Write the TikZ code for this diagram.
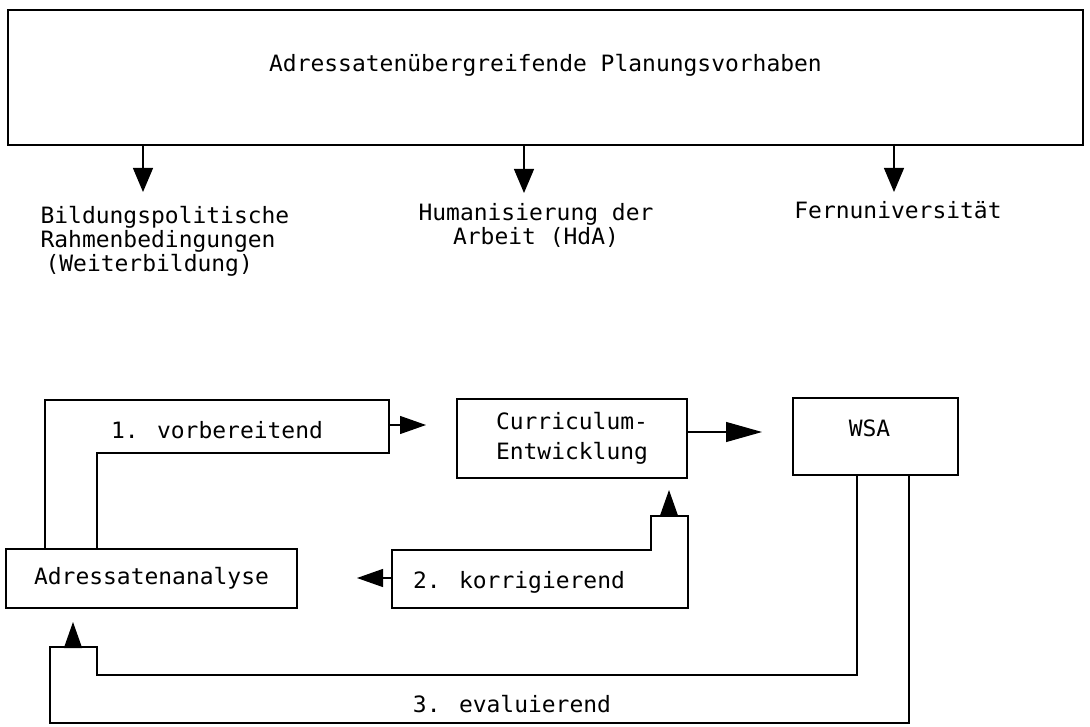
\documentclass[tikz,border=0pt]{standalone}
\usepackage{fontspec}
\newfontfamily\tw{DejaVu Sans Mono}[FakeStretch=1.02]
\usetikzlibrary{arrows.meta}
\begin{document}
\begin{tikzpicture}[x=1pt,y=-1pt,
  line width=1.2pt,
  txt/.style={font=\tw\fontsize{22.5}{24}\selectfont, inner sep=0pt},
  box/.style={draw, inner sep=0pt, line width=1.5pt},
  arrV/.style={-{Triangle[length=24pt,width=20pt]}},
  arrS/.style={-{Triangle[length=26pt,width=18pt]}},
  arrL/.style={-{Triangle[length=36pt,width=20pt]}},
]
\useasboundingbox (0,0) rectangle (1090,727);

% top box
\node[box, minimum width=1075pt, minimum height=135pt,
  label={[txt,yshift=12.5pt]center:Adressatenübergreifende Planungsvorhaben}] (top) at (545.5,77.5) {};

\node[txt, align=left, anchor=west] (bild) at (40,241) {Bildungspolitische\\Rahmenbedingungen\\\hspace*{5pt}(Weiterbildung)};
\node[txt, align=center] (huma) at (536,225) {Humanisierung der\\Arbeit (HdA)};
\node[txt] (fern) at (898,210) {Fernuniversität};

\coordinate (s1) at (143,146); \coordinate (t1) at (143,192);
\coordinate (s2) at (524,145); \coordinate (t2) at (524,193);
\coordinate (s3) at (894,144); \coordinate (t3) at (894,192);
\draw[arrV] (s1) -- (t1);
\draw[arrV] (s2) -- (t2);
\draw[arrV] (s3) -- (t3);

% lower boxes
\node[box, txt, minimum width=291pt, minimum height=59pt] (adr) at (151.5,578.5) {Adressatenanalyse};
\node[box, txt, align=left, minimum width=230pt, minimum height=79pt,
  font=\tw\fontsize{22.5}{30}\selectfont] (cur) at (572,438.5) {Curriculum-\\Entwicklung};
\node[box, minimum width=165pt, minimum height=77pt,
  label={[txt,xshift=-6pt,yshift=8pt]center:WSA}] (wsa) at (875.5,436.5) {};

% 1. vorbereitend
\coordinate (a1) at (45,549); \coordinate (a2) at (97,549);
\draw (a1) -- (45,400) -- (389,400) -- (389,453) -- (97,453) -- (a2);
\node[txt] (vor) at (217,430) {1. vorbereitend};
\coordinate (v1) at (389,425); \coordinate (v1t) at (426,425);
\draw[arrS] (v1) -- (v1t);

% Curriculum -> WSA
\coordinate (c1) at (687,432); \coordinate (c1t) at (762,432);
\draw[arrL] (c1) -- (c1t);

% 2. korrigierend
\draw[line width=1.5pt] (392,550) -- (651,550) -- (651,516) -- (688,516) -- (688,608) -- (392,608) -- cycle;
\node[txt] (korr) at (519,582) {2. korrigierend};
\coordinate (k1) at (669,516); \coordinate (k1t) at (669,490);
\draw[arrS] (k1) -- (k1t);
\coordinate (k2) at (392,578); \coordinate (k2t) at (357,578);
\draw[arrS] (k2) -- (k2t);

% 3. evaluierend
\coordinate (e1) at (857,475); \coordinate (e2) at (909,475);
\draw (e1) -- (857,675) -- (97,675) -- (97,647) -- (50,647) -- (50,723) -- (909,723) -- (e2);
\coordinate (e3) at (73,647); \coordinate (e3t) at (73,622);
\draw[arrS] (e3) -- (e3t);
\node[txt] (eval) at (512,704) {3. evaluierend};
\end{tikzpicture}
\end{document}
